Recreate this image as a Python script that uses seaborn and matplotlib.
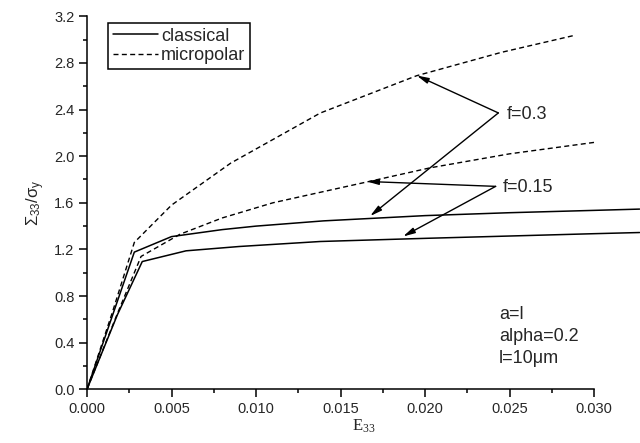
import numpy as np
import pandas as pd
import seaborn as sns
import matplotlib.pyplot as plt
from matplotlib.ticker import MultipleLocator, FormatStrFormatter

# Curve data
x_cl_03 = [0.0, 0.0015, 0.0028, 0.0050, 0.0080, 0.0100, 0.0140, 0.0200, 0.0250, 0.0300, 0.0327]
y_cl_03 = [0.0, 0.63, 1.177, 1.31, 1.37, 1.40, 1.445, 1.49, 1.515, 1.535, 1.546]

x_cl_015 = [0.0, 0.0018, 0.00327, 0.00586, 0.0090, 0.0138, 0.0200, 0.0250, 0.0300, 0.0327]
y_cl_015 = [0.0, 0.64, 1.096, 1.188, 1.225, 1.268, 1.295, 1.315, 1.335, 1.345]

x_mp_03 = [0.0, 0.0015, 0.0028, 0.0050, 0.0085, 0.0138, 0.0195, 0.0245, 0.0288]
y_mp_03 = [0.0, 0.66, 1.26, 1.58, 1.94, 2.37, 2.69, 2.89, 3.035]

x_mp_015 = [0.0, 0.0018, 0.0032, 0.0055, 0.0080, 0.0110, 0.0138, 0.0166, 0.0203, 0.0250, 0.0300]
y_mp_015 = [0.0, 0.65, 1.14, 1.33, 1.47, 1.60, 1.69, 1.78, 1.90, 2.02, 2.118]

# annotation positions (data coords)
f03_origin = (0.02434, 2.371)
f03_tips = [(0.01951, 2.692), (0.01675, 1.486)]
f015_origin = (0.02418, 1.741)
f015_tips = [(0.01655, 1.783), (0.0187, 1.311)]

sns.set_style('ticks')
plt.rcParams['font.family'] = ['Liberation Sans', 'DejaVu Sans']
plt.rcParams['mathtext.fontset'] = 'custom'
plt.rcParams['mathtext.rm'] = 'Liberation Sans'
plt.rcParams['mathtext.it'] = 'Liberation Sans'

fig = plt.figure(figsize=(6.4, 4.43), dpi=100)
ax = fig.add_axes([87 / 640, 1 - 389.3 / 443, 1 - 87 / 640, (389.3 - 16.3) / 443])

dash = (0, (3.6, 2.4))
sns.lineplot(x=x_cl_03, y=y_cl_03, ax=ax, color='black', lw=1.1, sort=False, label='classical')
sns.lineplot(x=x_cl_015, y=y_cl_015, ax=ax, color='black', lw=1.1, sort=False)
sns.lineplot(x=x_mp_03, y=y_mp_03, ax=ax, color='black', lw=1.0, sort=False,
             linestyle=dash, label='micropolar')
sns.lineplot(x=x_mp_015, y=y_mp_015, ax=ax, color='black', lw=1.0, sort=False, linestyle=dash)

ax.set_xlim(0, (640 - 87) / 16900)
ax.set_ylim(0, 3.2)
ax.spines['top'].set_visible(False)
ax.spines['right'].set_visible(False)
ax.spines['bottom'].set_bounds(0, 0.030)
for s in ['left', 'bottom']:
    ax.spines[s].set_linewidth(1.1)
    ax.spines[s].set_color('black')

ax.set_xticks(np.arange(0, 0.0301, 0.005))
ax.xaxis.set_major_formatter(FormatStrFormatter('%.3f'))
ax.set_xticks(np.arange(0.0025, 0.0300, 0.005), minor=True)
ax.set_yticks(np.arange(0, 3.21, 0.4))
ax.yaxis.set_major_formatter(FormatStrFormatter('%.1f'))
ax.yaxis.set_minor_locator(MultipleLocator(0.2))
ax.tick_params(which='major', direction='out', length=5.5, width=1.1, labelsize=10.5, color='black')
ax.tick_params(which='minor', direction='out', length=3, width=1.1, color='black')

ax.set_xlabel(r'$\mathregular{E_{33}}$', family='Liberation Serif', fontsize=12, labelpad=1)
ax.set_ylabel(r'$\Sigma_{33}/\sigma_y$', fontsize=12, labelpad=5)

arrow = dict(arrowstyle='-|>,head_length=0.7,head_width=0.17', color='black', lw=1.0,
             shrinkA=0, shrinkB=0)
for tip in f03_tips:
    ax.annotate('', xy=tip, xytext=f03_origin, arrowprops=arrow)
for tip in f015_tips:
    ax.annotate('', xy=tip, xytext=f015_origin, arrowprops=arrow)
ax.text(0.02483, 2.357, 'f=0.3', fontsize=13, va='center', ha='left')
ax.text(0.02462, 1.727, 'f=0.15', fontsize=13, va='center', ha='left')

ax.text(0.02437, 0.645, 'a=l', fontsize=13, va='center', ha='left')
ax.text(0.02437, 0.452, 'alpha=0.2', fontsize=13, va='center', ha='left')
ax.text(0.02437, 0.266, 'l=10\u03bcm', fontsize=13, va='center', ha='left')

leg = ax.legend(loc='upper left', bbox_to_anchor=(108 / 640, 1 - 23 / 443),
                bbox_transform=fig.transFigure, fontsize=13, frameon=True, fancybox=False,
                framealpha=1, edgecolor='black', borderpad=0.25, labelspacing=0.15,
                handlelength=2.5, handletextpad=0.2, borderaxespad=0)
leg.get_frame().set_linewidth(1.1)

fig.savefig('out.png', dpi=100)
